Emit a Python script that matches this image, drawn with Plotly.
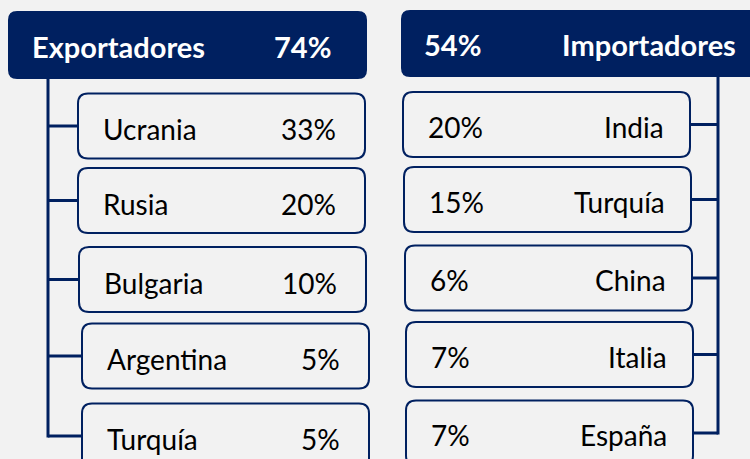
import plotly.graph_objects as go

# =============================================================================
# DATA
# =============================================================================

export_total = 74
import_total = 54

exportadores = ["Ucrania", "Rusia", "Bulgaria", "Argentina", "Turquía"]
export_pct = [33, 20, 10, 5, 5]

importadores = ["India", "Turquía", "China", "Italia", "España"]
import_pct = [20, 15, 6, 7, 7]

# =============================================================================
# LAYOUT (pixel grid of the slide)
# =============================================================================

NAVY = "#002060"
BG = "#f2f2f2"
FONT = "Lato"

left_rows_y = [126, 200.5, 279.5, 356, 436]
left_rows_x = [78, 78, 79, 82, 82]
right_rows_y = [124.5, 199.5, 278, 354.5, 433]
right_rows_x = [403, 404, 405, 406, 406]
box_w = 287
box_h = 65


def rounded_box(x0, y0, x1, y1, r):
    """Rounded rectangle as an SVG path (y axis is reversed)"""
    return (f"M {x0 + r},{y0} L {x1 - r},{y0} Q {x1},{y0} {x1},{y0 + r} "
            f"L {x1},{y1 - r} Q {x1},{y1} {x1 - r},{y1} "
            f"L {x0 + r},{y1} Q {x0},{y1} {x0},{y1 - r} "
            f"L {x0},{y0 + r} Q {x0},{y0} {x0 + r},{y0} Z")


fig = go.Figure()
shapes = []
annotations = []

# =============================================================================
# HEADERS
# =============================================================================

shapes.append(dict(type="path", path=rounded_box(8, 11, 367, 79, 9),
                   fillcolor=NAVY, line=dict(width=0), layer="below"))
shapes.append(dict(type="path", path=rounded_box(401, 10, 770, 77, 9),
                   fillcolor=NAVY, line=dict(width=0), layer="below"))

hdr_font = dict(family=FONT, size=29, color="white", weight="bold")
annotations += [
    dict(x=30, y=46, text="Exportadores", xanchor="left", font=hdr_font),
    dict(x=333, y=46, text=f"{export_total}%", xanchor="right", font=hdr_font),
    dict(x=422, y=44, text=f"{import_total}%", xanchor="left", font=hdr_font),
    dict(x=738, y=44, text="Importadores", xanchor="right", font=hdr_font),
]

# =============================================================================
# CHILD BOXES
# =============================================================================

row_font = dict(family=FONT, size=28, color="black")

# Exportadores (left tree)
left_trunk = 48
for name, pct, yc, x0 in zip(exportadores, export_pct, left_rows_y, left_rows_x):
    x1 = x0 + box_w
    shapes.append(dict(type="path", path=rounded_box(x0, yc - box_h / 2, x1, yc + box_h / 2, 10),
                       fillcolor=BG, line=dict(color=NAVY, width=2)))
    shapes.append(dict(type="line", x0=left_trunk, x1=x0, y0=yc, y1=yc,
                       line=dict(color=NAVY, width=3)))
    annotations.append(dict(x=x0 + 23, y=yc + 3, text=name, xanchor="left", font=row_font))
    annotations.append(dict(x=x0 + 260, y=yc + 3, text=f"{pct}%", xanchor="right", font=row_font))
shapes.append(dict(type="line", x0=left_trunk, x1=left_trunk, y0=79, y1=left_rows_y[-1] + 1.5,
                   line=dict(color=NAVY, width=3)))

# Importadores (right tree)
right_trunk = 718
for name, pct, yc, x0 in zip(importadores, import_pct, right_rows_y, right_rows_x):
    x1 = x0 + box_w
    shapes.append(dict(type="path", path=rounded_box(x0, yc - box_h / 2, x1, yc + box_h / 2, 10),
                       fillcolor=BG, line=dict(color=NAVY, width=2)))
    shapes.append(dict(type="line", x0=x1, x1=right_trunk, y0=yc, y1=yc,
                       line=dict(color=NAVY, width=3)))
    annotations.append(dict(x=x0 + 23, y=yc + 2, text=f"{pct}%", xanchor="left", font=row_font))
    annotations.append(dict(x=x1 - 24, y=yc + 2, text=name, xanchor="right", font=row_font))
shapes.append(dict(type="line", x0=right_trunk, x1=right_trunk, y0=77, y1=right_rows_y[-1] + 1.5,
                   line=dict(color=NAVY, width=3)))

for a in annotations:
    a.update(xref="x", yref="y", showarrow=False, yanchor="middle")

fig.update_layout(
    width=750, height=459,
    margin=dict(l=0, r=0, t=0, b=0),
    paper_bgcolor=BG, plot_bgcolor=BG,
    shapes=shapes, annotations=annotations,
    showlegend=False,
    xaxis=dict(range=[0, 750], visible=False, fixedrange=True),
    yaxis=dict(range=[459, 0], visible=False, fixedrange=True),
)

# drop the browser's default page margin so the figure sits at the window corner
fig.write_html("out.html", config={"displayModeBar": False},
               post_script="document.body.style.margin='0';document.body.style.background='#f2f2f2';")
